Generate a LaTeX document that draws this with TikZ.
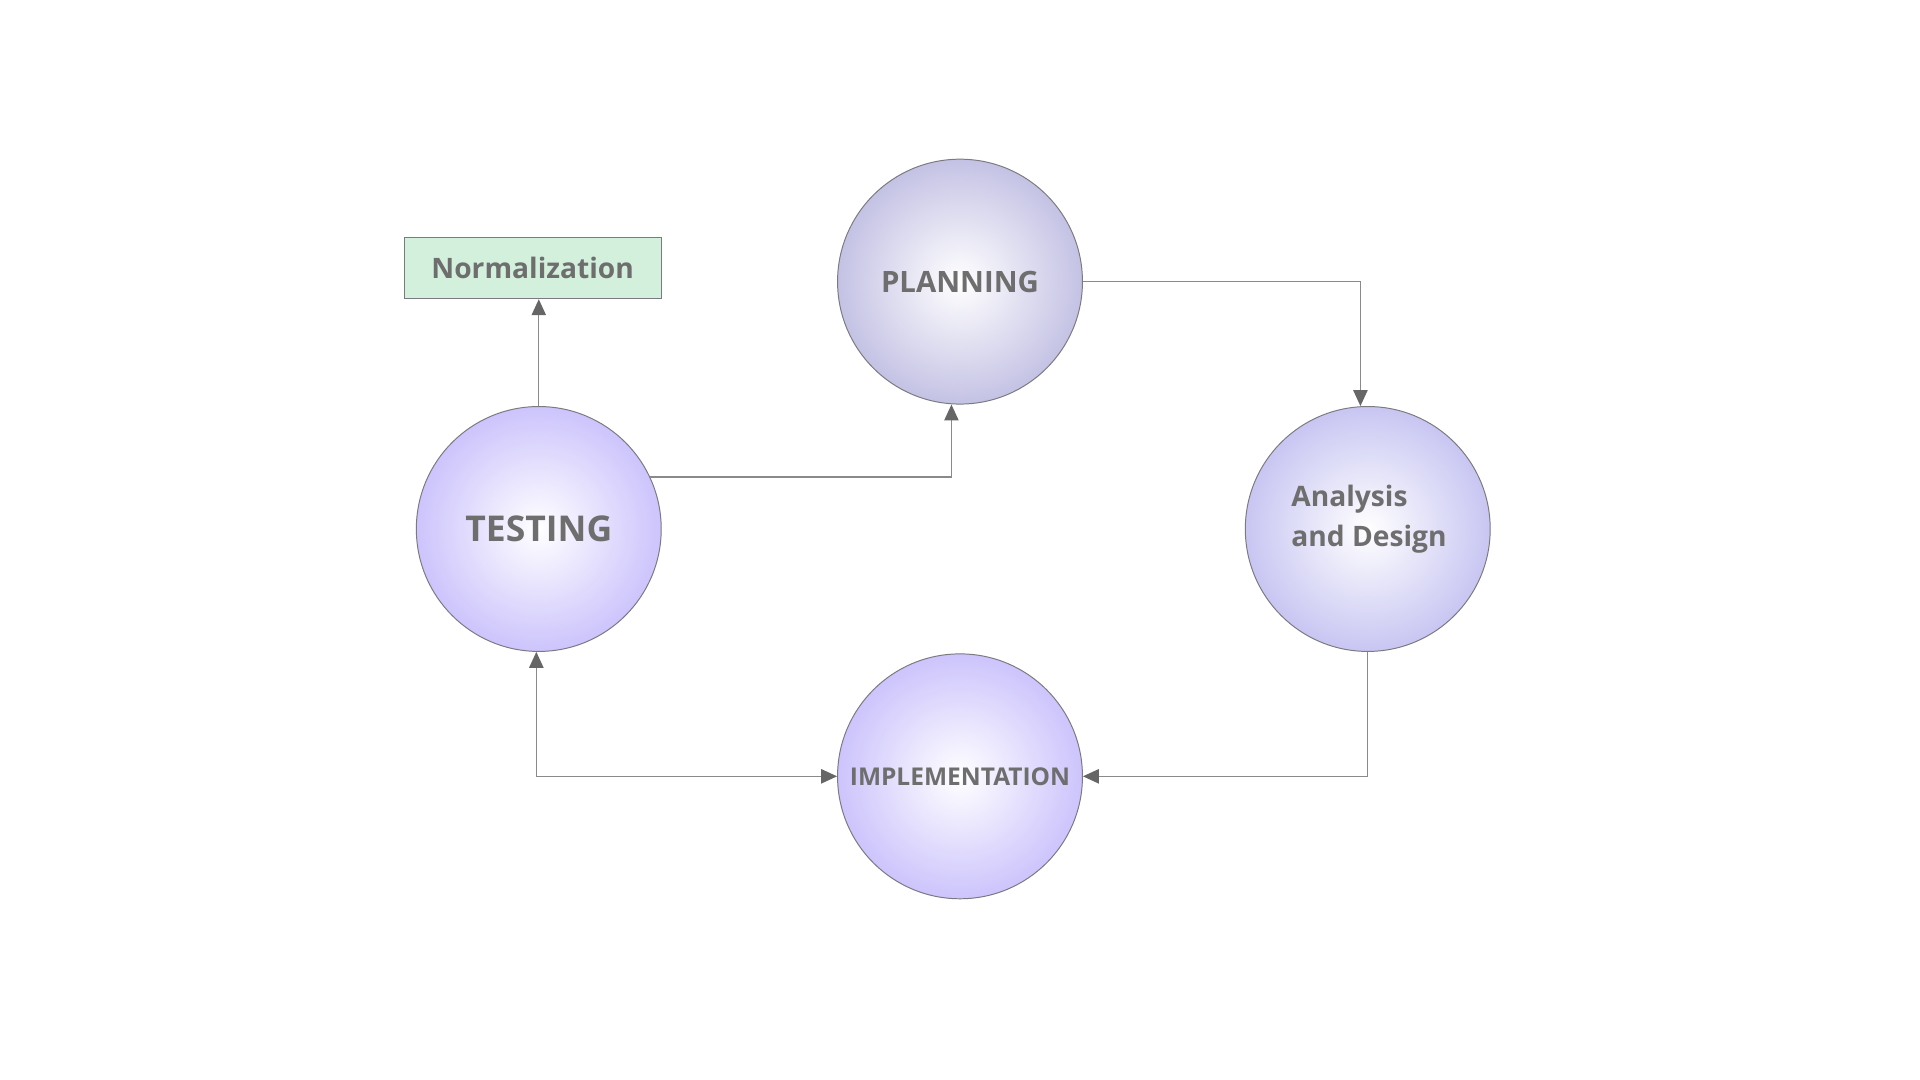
\documentclass[tikz,border=0pt]{standalone}
\usepackage{fontspec}
\setmainfont{Open Sans}
\usetikzlibrary{arrows.meta}
\definecolor{txtgray}{HTML}{6E6E6E}
\definecolor{linegray}{HTML}{8A8A8A}
\definecolor{tipgray}{HTML}{666666}
\definecolor{rimgray}{HTML}{7A7A80}
\definecolor{planedge}{HTML}{C4C2E4}
\definecolor{anaedge}{HTML}{C8C6F2}
\definecolor{violedge}{HTML}{CCC4FC}
\definecolor{normfill}{HTML}{D3F0DC}
\begin{document}
\begin{tikzpicture}[x=1pt, y=-1pt,
  >={Triangle[length=13pt, width=12pt, fill=tipgray, line width=0pt]},
  every node/.style = {text=txtgray},
  phase/.style = {circle, draw=rimgray, line width=0.8pt,
    minimum size=200pt, inner sep=0pt,
    inner color=white, outer color=#1},
  note/.style = {rectangle, draw=rimgray, line width=0.8pt,
    fill=normfill, minimum width=210pt, minimum height=50pt},
  link/.style = {draw=linegray, line width=1pt}]
  \useasboundingbox (0,0) rectangle (1568,882);
  \node[phase=planedge, font=\bfseries\fontsize{24}{28}\selectfont] (plan) at (784,230) {PLANNING};
  \node[phase=violedge, font=\bfseries\fontsize{29}{34}\selectfont] (test) at (440,432) {TESTING};
  \node[phase=anaedge] (ana) at (1117,432) {};
  \node[align=left, font=\bfseries\fontsize{23}{32}\selectfont] (analabel)
    at ([xshift=1pt, yshift=8pt]ana.center) {Analysis\\and Design};
  \node[phase=violedge, font=\bfseries\fontsize{20}{24}\selectfont] (imp) at (784,634) {IMPLEMENTATION};
  \node[note, font=\bfseries\fontsize{23}{28}\selectfont] (norm) at (435,219) {Normalization};
  % connectors
  \draw[link, ->] (plan.east) -| ([xshift=-6pt]ana.north);
  \draw[link, ->] (test.25) -| ([xshift=-7pt]plan.south);
  \draw[link, ->] (test.north) -- (test.north |- norm.south);
  \draw[link, ->] (ana.south) |- (imp.east);
  \draw[link, <->] ([xshift=-2pt]test.south) |- (imp.west);
\end{tikzpicture}
\end{document}
